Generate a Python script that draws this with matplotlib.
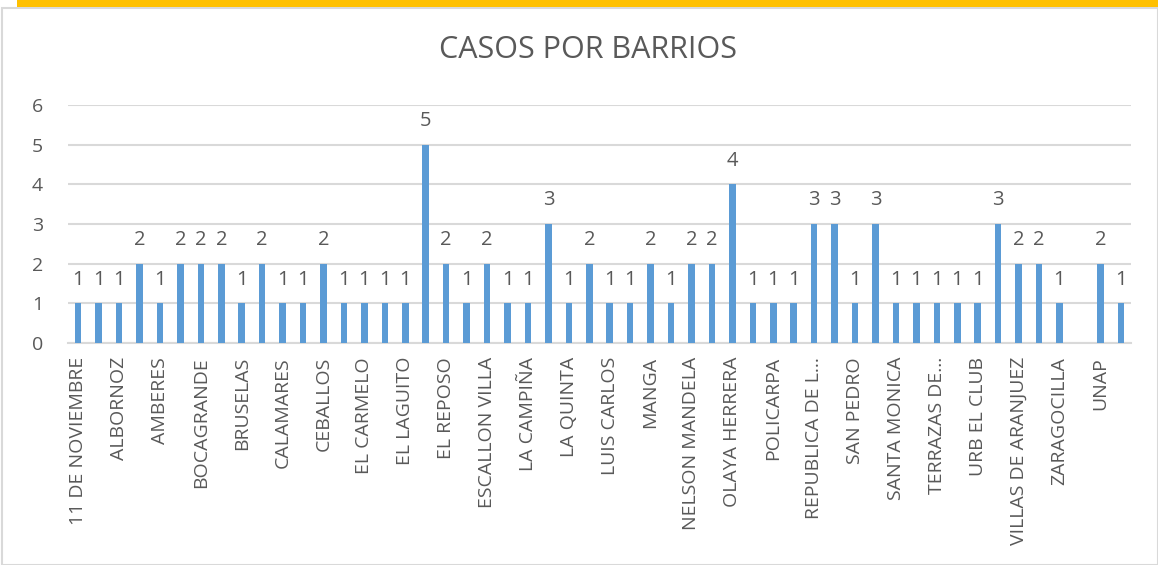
import matplotlib
matplotlib.use("Agg")
import matplotlib.pyplot as plt
from matplotlib.patches import Rectangle

# Cases per neighbourhood (52 categories, only every second name is shown on the axis)
casos = [1, 1, 1, 2, 1, 2, 2, 2, 1, 2, 1, 1, 2, 1, 1, 1, 1, 5, 2, 1,
         2, 1, 1, 3, 1, 2, 1, 1, 2, 1, 2, 2, 4, 1, 1, 1, 3, 3, 1, 3,
         1, 1, 1, 1, 1, 3, 2, 2, 1, 0, 2, 1]

# visible labels (Excel skipped every other one)
barrios_visibles = ["11 DE NOVIEMBRE", "ALBORNOZ", "AMBERES", "BOCAGRANDE",
                    "BRUSELAS", "CALAMARES", "CEBALLOS", "EL CARMELO",
                    "EL LAGUITO", "EL REPOSO", "ESCALLON VILLA", "LA CAMPIÑA",
                    "LA QUINTA", "LUIS CARLOS", "MANGA", "NELSON MANDELA",
                    "OLAYA HERRERA", "POLICARPA", "REPUBLICA DE L...",
                    "SAN PEDRO", "SANTA MONICA", "TERRAZAS DE...",
                    "URB EL CLUB", "VILLAS DE ARANJUEZ", "ZARAGOCILLA", "UNAP"]

plt.rcParams['font.family'] = ['Open Sans', 'DejaVu Sans']
txt = '#595959'

fig = plt.figure(figsize=(11.58, 5.65), dpi=100)
ax = fig.add_axes([68/1158, 1-343/565, (1131-68)/1158, (343-105)/565])

# chart border and yellow band at the top
fig.patches.append(Rectangle((2/1158, 0), 1 - 2/1158, 1 - 8/565, transform=fig.transFigure,
                             fill=False, edgecolor='#D9D9D9', linewidth=1.5))
fig.patches.append(Rectangle((17/1158, 1 - 7/565), 1, 7/565, transform=fig.transFigure,
                             facecolor='#FFC000', edgecolor='none'))

x = list(range(len(casos)))
ax.bar(x, casos, width=0.32, color='#5B9BD5', zorder=3)

for xi, v in zip(x, casos):
    if v > 0:
        ax.text(xi, v + 0.6, str(v), ha='center', va='center', fontsize=14.5, color=txt)

ax.set_xlim(-0.5, len(casos) - 0.5)
ax.set_ylim(0, 6)
ax.set_yticks(range(0, 7))
ax.grid(axis='y', color='#D9D9D9', linewidth=1.5, zorder=0)
for s in ['top', 'right', 'left']:
    ax.spines[s].set_visible(False)
ax.spines['bottom'].set_color('#D9D9D9')
ax.spines['bottom'].set_linewidth(1.5)

ax.set_xticks(x[::2])
ax.set_xticklabels(barrios_visibles, rotation=90, fontsize=14, color=txt)
ax.tick_params(axis='x', length=0, pad=10)
ax.tick_params(axis='y', length=0, pad=18, labelsize=14, labelcolor=txt)

fig.text(588/1158, 1 - 50/565, 'CASOS POR BARRIOS', ha='center', va='center',
         fontsize=22, color=txt)

fig.savefig('out.png', dpi=100)
